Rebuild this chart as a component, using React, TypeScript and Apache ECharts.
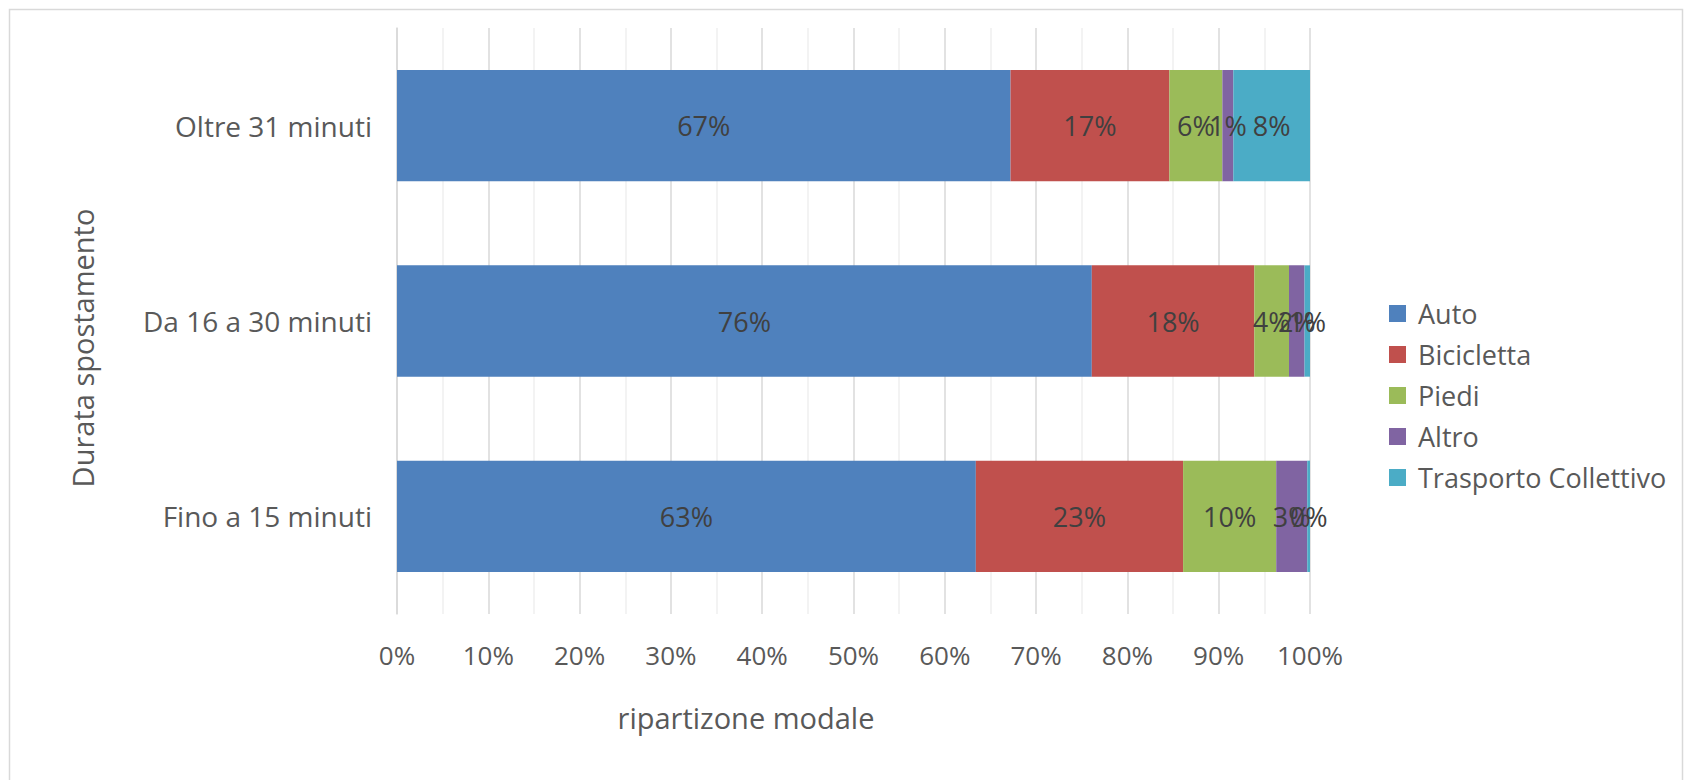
import React, { useEffect, useRef } from "react";
import * as echarts from "echarts";

// Trip duration classes (bottom to top) and modal split shares in percent
const categories = ["Fino a 15 minuti", "Da 16 a 30 minuti", "Oltre 31 minuti"];
const seriesNames = ["Auto", "Bicicletta", "Piedi", "Altro", "Trasporto Collettivo"];
const auto = [63.4, 76.1, 67.2];
const bicicletta = [22.7, 17.8, 17.4];
const piedi = [10.2, 3.8, 5.8];
const altro = [3.4, 1.7, 1.2];
const trasportoCollettivo = [0.3, 0.6, 8.4];
const tickValues = [0, 10, 20, 30, 40, 50, 60, 70, 80, 90, 100];

const colors = ["#4F81BD", "#C0504D", "#9BBB59", "#8064A2", "#4BACC6"];
const FONT = "'Open Sans', sans-serif";

export default function App() {
  const ref = useRef<HTMLDivElement>(null);

  useEffect(() => {
    if (!ref.current) return;
    const chart = echarts.init(ref.current, undefined, { renderer: "svg" });
    const values = [auto, bicicletta, piedi, altro, trasportoCollettivo];

    chart.setOption({
      animation: false,
      backgroundColor: "#ffffff",
      color: colors,
      textStyle: { fontFamily: FONT },
      grid: { left: 389, right: 374, top: 20, bottom: 166, containLabel: false },
      legend: {
        orient: "vertical",
        left: 1376,
        top: 287,
        itemWidth: 17,
        itemHeight: 17,
        itemGap: 14,
        icon: "rect",
        selectedMode: false,
        data: seriesNames,
        textStyle: {
          fontFamily: FONT,
          fontSize: 27,
          lineHeight: 27,
          color: "#595959",
          padding: [0, 0, 0, 7],
        },
      },
      xAxis: {
        type: "value",
        min: tickValues[0],
        max: tickValues[tickValues.length - 1],
        interval: 10,
        axisLine: { show: false },
        axisTick: { show: false },
        axisLabel: {
          formatter: "{value}%",
          fontFamily: FONT,
          fontSize: 26,
          color: "#595959",
          margin: 28,
        },
        splitLine: { show: true, lineStyle: { color: "#d9d9d9", width: 1.5 } },
        minorTick: { show: false, splitNumber: 2 },
        minorSplitLine: { show: true, lineStyle: { color: "#efefef", width: 1.5 } },
      },
      yAxis: {
        type: "category",
        data: categories,
        axisLine: { show: true, lineStyle: { color: "#d9d9d9", width: 1.5 } },
        axisTick: { show: false },
        axisLabel: {
          fontFamily: FONT,
          fontSize: 28,
          color: "#595959",
          margin: 25,
        },
      },
      series: seriesNames.map((name, i) => ({
        name,
        type: "bar",
        stack: "total",
        barCategoryGap: "43%",
        data: values[i],
        label: {
          show: true,
          position: "inside",
          formatter: (p: any) => `${Math.round(p.value)}%`,
          fontFamily: FONT,
          fontSize: 27,
          color: "#404040",
        },
      })),
      graphic: [
        {
          type: "rect",
          silent: true,
          shape: { x: 1.5, y: 1.5, width: 1673, height: 800 },
          style: { fill: "none", stroke: "#d9d9d9", lineWidth: 1.5 },
        },
        {
          type: "text",
          x: 738,
          y: 709,
          style: {
            text: "ripartizone modale",
            fontFamily: FONT,
            fontSize: 29,
            fill: "#595959",
            textAlign: "center",
            textVerticalAlign: "middle",
          },
        },
        {
          type: "text",
          x: 74,
          y: 340,
          rotation: Math.PI / 2,
          style: {
            text: "Durata spostamento",
            fontFamily: FONT,
            fontSize: 29,
            fill: "#595959",
            textAlign: "center",
            textVerticalAlign: "middle",
          },
        },
      ],
    });

    return () => chart.dispose();
  }, []);

  return <div ref={ref} style={{ width: 1676, height: 772 }} />;
}
